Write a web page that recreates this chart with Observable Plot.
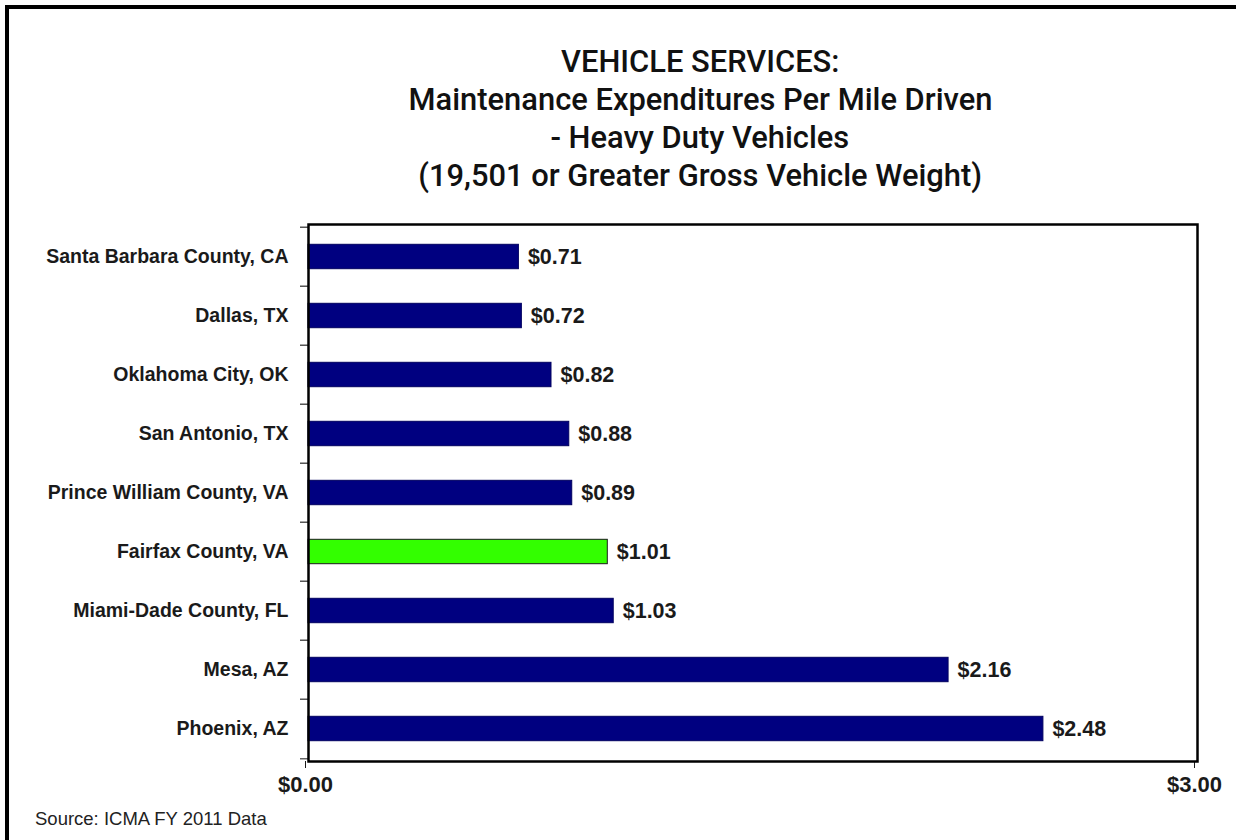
<!DOCTYPE html>
<html>
<head>
<meta charset="utf-8">
<script src="https://cdn.jsdelivr.net/npm/d3@7"></script>
<script src="https://cdn.jsdelivr.net/npm/@observablehq/plot@0.6"></script>
<style>
  html, body { margin: 0; padding: 0; background: #fff; overflow: hidden; }
  #page { position: absolute; left: 0; top: 0; width: 1236px; height: 840px; background: #fff; }
  #hline { position: absolute; left: 5px; top: 5px; width: 1231px; height: 4px; background: #000; }
  #vline { position: absolute; left: 5px; top: 5px; width: 4px; height: 835px; background: #000; }
  #title { position: absolute; left: 200px; width: 1000px; top: 42px; text-align: center;
    font-family: Roboto, "Liberation Sans", sans-serif; font-weight: 500;
    font-size: 32px; line-height: 38px; color: #111; }
  #title span { display: inline-block; transform: scaleX(0.965); transform-origin: center; white-space: nowrap; }
  #chart { position: absolute; left: 0; top: 214px; }
  #source { position: absolute; left: 35px; top: 808px; font-family: "Liberation Sans", Arial, sans-serif;
    font-size: 18.5px; color: #222; }
</style>
</head>
<body>
<div id="page">
  <div id="hline"></div>
  <div id="vline"></div>
  <div id="title"><span>VEHICLE SERVICES:</span><br><span>Maintenance Expenditures Per Mile Driven</span><br><span>- Heavy Duty Vehicles</span><br><span>(19,501 or Greater Gross Vehicle Weight)</span></div>
  <div id="chart"></div>
  <div id="source">Source: ICMA FY 2011 Data</div>
</div>
<script>
const cities = ["Santa Barbara County, CA", "Dallas, TX", "Oklahoma City, OK", "San Antonio, TX",
  "Prince William County, VA", "Fairfax County, VA", "Miami-Dade County, FL", "Mesa, AZ", "Phoenix, AZ"];
const values = [0.71, 0.72, 0.82, 0.88, 0.89, 1.01, 1.03, 2.16, 2.48];
const highlight = "Fairfax County, VA";
const xTicks = [0, 3];

const data = cities.map((c, i) => ({city: c, value: values[i]}));

const W = 1236, H = 582, mT = 10, mB = 35, mL = 308, mR = 39;
const step = (H - mT - mB) / cities.length;
const fmt = v => "$" + d3.format(".2f")(v);

const chart = Plot.plot({
  width: W, height: H,
  marginTop: mT, marginBottom: mB, marginLeft: mL, marginRight: mR,
  style: {fontFamily: "'Liberation Sans', Arial, sans-serif", fontSize: "19px", color: "#1a1a1a", background: "transparent"},
  x: {domain: [0, 3], ticks: xTicks, label: null},
  y: {domain: cities, padding: 0, label: null},
  marks: [
    Plot.barX(data, {x: "value", y: "city", insetTop: 17.3, insetBottom: 17.3,
      fill: d => d.city === highlight ? "#33ff00" : "#000080",
      stroke: d => d.city === highlight ? "#1a1a1a" : "#000060", strokeWidth: 1}),
    Plot.text(data, {x: "value", y: "city", text: d => fmt(d.value), dx: 9, textAnchor: "start",
      fontSize: 21.5, fontWeight: "bold", fill: "#1a1a1a"}),
    Plot.axisY({tickSize: 8, tickFormat: () => "", dy: -step / 2, stroke: "#000", label: null}),
    Plot.axisY({ticks: [cities[cities.length - 1]], tickSize: 8, tickFormat: () => "", dy: step / 2, label: null}),
    Plot.axisY({tickSize: 0, tickPadding: 20, fontSize: 19.5, fontWeight: "bold", fill: "#1a1a1a", label: null}),
    Plot.axisX({ticks: xTicks, tickSize: 7, tickPadding: 8, tickFormat: fmt, fontSize: 22, fontWeight: "bold", fill: "#1a1a1a", dx: -3, label: null}),
    Plot.frame({stroke: "#000", strokeWidth: 2.5})
  ]
});
document.getElementById("chart").appendChild(chart);
</script>
</body>
</html>
